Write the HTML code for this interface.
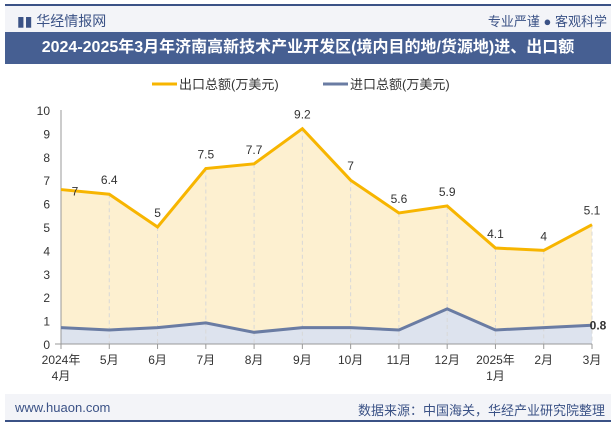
<!DOCTYPE html>
<html><head><meta charset="utf-8"><style>
body{margin:0;width:615px;height:427px;overflow:hidden;background:#fff;font-family:"Liberation Sans","Noto Sans CJK SC",sans-serif;position:relative}
.abs{position:absolute}
</style></head><body>
<div class="abs" style="left:5px;top:4px;width:606px;height:2px;background:#3b5286"></div>
<div class="abs" style="left:5px;top:6px;width:606px;height:26px;background:#f3f4f8"></div>
<div class="abs" style="left:17px;top:11px;font-size:14px;color:#3b5286">▮▮ 华经情报网</div>
<div class="abs" style="right:8px;top:11px;font-size:13px;color:#3b5286">专业严谨 ● 客观科学</div>
<div class="abs" style="left:5px;top:32px;width:606px;height:32px;background:#465f92;color:#fff;font-weight:bold;font-size:16px;line-height:32px;text-align:center;white-space:nowrap">2024-2025年3月年济南高新技术产业开发区(境内目的地/货源地)进、出口额</div>
<svg class="abs" style="left:0;top:0" width="615" height="427" id="chart"></svg>
<div class="abs" style="left:5px;top:394px;width:606px;height:27px;background:#f3f4f8"></div>
<div class="abs" style="left:5px;top:420px;width:606px;height:2px;background:#3b5286"></div>
<div class="abs" style="left:15px;top:400px;font-size:13px;color:#3b5286">www.huaon.com</div>
<div class="abs" style="right:10px;top:400px;font-size:13px;color:#3b5286">数据来源：中国海关，华经产业研究院整理</div>
<script>
const categories=["2024年\n4月","5月","6月","7月","8月","9月","10月","11月","12月","2025年\n1月","2月","3月"];
const exportVals=[6.6,6.4,5.0,7.5,7.7,9.2,7.0,5.6,5.9,4.1,4.0,5.1];
const exportLabels=["7","6.4","5","7.5","7.7","9.2","7","5.6","5.9","4.1","4","5.1"];
const importVals=[0.7,0.6,0.7,0.9,0.5,0.7,0.7,0.6,1.5,0.6,0.7,0.8];
const yTicks=[0,1,2,3,4,5,6,7,8,9,10];
const svg=document.getElementById('chart');const NS="http://www.w3.org/2000/svg";
const x0=61,x1=592,y0=344,y1=110;
const X=i=>x0+(x1-x0)*i/(categories.length-1);
const Y=v=>y0-(y0-y1)*v/10;
function mk(t,a,p){const e=document.createElementNS(NS,t);for(const k in a)e.setAttribute(k,a[k]);(p||svg).appendChild(e);return e;}
let l=mk('line',{x1:152,y1:84,x2:177,y2:84,stroke:'#f7b500','stroke-width':3});

let t=mk('text',{x:179,y:89,'font-size':13,fill:'#333'});t.textContent='出口总额(万美元)';

l=mk('line',{x1:323,y1:84,x2:348,y2:84,stroke:'#6a7ca3','stroke-width':3});

t=mk('text',{x:350,y:89,'font-size':13,fill:'#333'});t.textContent='进口总额(万美元)';

yTicks.forEach(v=>{const e=mk('text',{x:50,y:Y(v)+5,'font-size':12,fill:'#333','text-anchor':'end'});e.textContent=v;
});
let d='M'+X(0)+','+y0;exportVals.forEach((v,i)=>d+=' L'+X(i)+','+Y(v));d+=' L'+X(exportVals.length-1)+','+y0+'Z';
let a=mk('path',{d:d,fill:'#fdf0d0'});
let d2='M'+X(0)+','+y0;importVals.forEach((v,i)=>d2+=' L'+X(i)+','+Y(v));d2+=' L'+X(importVals.length-1)+','+y0+'Z';
a=mk('path',{d:d2,fill:'#dde3ee'});
exportVals.forEach((v,i)=>{const g=mk('line',{x1:X(i),y1:Y(v),x2:X(i),y2:y0,stroke:'#d8d8d8','stroke-dasharray':'4,3'});
});
a=mk('line',{x1:x0-6,y1:y0,x2:x1,y2:y0,stroke:'#999'});
a=mk('line',{x1:x0,y1:y1,x2:x0,y2:y0,stroke:'#999'});
categories.forEach((c,i)=>{const tk=mk('line',{x1:X(i),y1:y0,x2:X(i),y2:y0+5,stroke:'#999'});

const parts=c.split('\n');parts.forEach((p,j)=>{const e=mk('text',{x:X(i),y:y0+20+j*16,'font-size':12,fill:'#333','text-anchor':'middle'});e.textContent=p;
});});
let p=mk('polyline',{points:exportVals.map((v,i)=>X(i)+','+Y(v)).join(' '),fill:'none',stroke:'#f7b500','stroke-width':3});

p=mk('polyline',{points:importVals.map((v,i)=>X(i)+','+Y(v)).join(' '),fill:'none',stroke:'#6a7ca3','stroke-width':3});

exportLabels.forEach((s,i)=>{const e=mk('text',{x:X(i)+(i===0?14:0),y:Y(exportVals[i])-(i===0?-6:10),'font-size':12,fill:'#333','text-anchor':'middle'});e.textContent=s;
});
const li=importVals.length-1;
t=mk('text',{x:X(li)+6,y:Y(importVals[li])+4,'font-size':12,'font-weight':'bold',fill:'#333','text-anchor':'middle'});t.textContent=importVals[li];

</script>
</body></html>
